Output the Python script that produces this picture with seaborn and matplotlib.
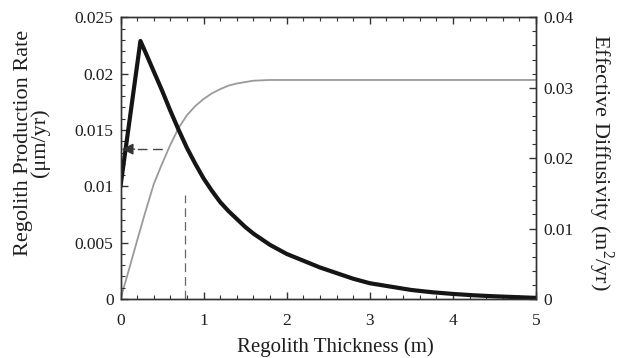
import matplotlib
matplotlib.use("Agg")
import matplotlib.pyplot as plt
from matplotlib.ticker import MultipleLocator, FixedLocator
import pandas as pd
import seaborn as sns

# Regolith production rate (left axis) versus soil thickness
production_h = [0.0, 0.24, 0.3, 0.4, 0.5, 0.6, 0.7, 0.8, 0.9, 1.0, 1.1, 1.2, 1.3, 1.4,
                1.5, 1.6, 1.7, 1.8, 1.9, 2.0, 2.2, 2.4, 2.6, 2.8, 3.0, 3.25, 3.5,
                3.75, 4.0, 4.25, 4.5, 4.75, 5.0]
production_rate = [0.0100, 0.0229, 0.0219, 0.0202, 0.0185, 0.0167, 0.0150, 0.0134,
                   0.0120, 0.0107, 0.0096, 0.0086, 0.0078, 0.0071, 0.0064, 0.0058,
                   0.0053, 0.0048, 0.0044, 0.0040, 0.0034, 0.0028, 0.0023, 0.0018,
                   0.0014, 0.0011, 0.0008, 0.0006, 0.00045, 0.00033, 0.00024,
                   0.00017, 0.0001]

# Effective diffusivity (right axis) versus soil thickness
diffusivity_h = [0.0, 0.1, 0.2, 0.3, 0.4, 0.5, 0.6, 0.7, 0.8, 0.9, 1.0, 1.1, 1.2, 1.3,
                 1.4, 1.5, 1.6, 1.8, 5.0]
diffusivity = [0.0, 0.0041, 0.0083, 0.0124, 0.0163, 0.0192, 0.0219, 0.0243, 0.0261,
               0.0274, 0.0284, 0.0292, 0.0298, 0.0303, 0.0306, 0.0308, 0.0310,
               0.0311, 0.0311]

# Dashed guide lines
guide_rate = 0.0133
guide_rate_span = (0.02, 0.535)
guide_h = 0.78
guide_h_top = 0.0092

x_ticks = [0, 1, 2, 3, 4, 5]
left_ticks = [0, 0.005, 0.01, 0.015, 0.02, 0.025]
left_labels = ["0", "0.005", "0.01", "0.015", "0.02", "0.025"]
right_ticks = [0, 0.01, 0.02, 0.03, 0.04]
right_labels = ["0", "0.01", "0.02", "0.03", "0.04"]

sns.set_theme(style="ticks")
plt.rcParams["font.family"] = ["Liberation Serif", "DejaVu Serif"]
plt.rcParams["mathtext.fontset"] = "custom"
plt.rcParams["mathtext.rm"] = "Liberation Serif"

ink = "#1e1e1e"
fig = plt.figure(figsize=(6.17, 3.58), dpi=100)
ax = fig.add_axes([0.1953, 0.1648, 0.6734, 0.7869])
ax2 = ax.twinx()

prod = pd.DataFrame({"h": production_h, "rate": production_rate})
diff = pd.DataFrame({"h": diffusivity_h, "D": diffusivity})

sns.lineplot(data=diff, x="h", y="D", ax=ax2, color="#9a9a9a", linewidth=1.3)
sns.lineplot(data=prod, x="h", y="rate", ax=ax, color="#151515", linewidth=3.0)
ax.set_zorder(ax2.get_zorder() + 1)
ax.patch.set_visible(False)

# guide lines
ax.plot(guide_rate_span, [guide_rate, guide_rate], color="#444444", lw=1.0,
        dashes=(7, 4))
ax.annotate("", xy=(guide_rate_span[0], guide_rate),
            xytext=(guide_rate_span[0] + 0.15, guide_rate),
            arrowprops=dict(arrowstyle="-|>,head_length=0.55,head_width=0.28",
                            color="#333333", lw=1.0, shrinkA=0, shrinkB=0))
ax.plot([guide_h, guide_h], [0, guide_h_top], color="#666666", lw=0.9,
        dashes=(7, 4))

ax.set_xlim(0, 5)
ax.set_ylim(0, 0.025)
ax2.set_ylim(0, 0.04)

ax.xaxis.set_major_locator(FixedLocator(x_ticks))
ax.set_xticklabels([str(t) for t in x_ticks])
ax.xaxis.set_minor_locator(MultipleLocator(0.2))
ax.yaxis.set_major_locator(FixedLocator(left_ticks))
ax.set_yticklabels(left_labels)
ax.yaxis.set_minor_locator(MultipleLocator(0.001))
ax2.yaxis.set_major_locator(FixedLocator(right_ticks))
ax2.set_yticklabels(right_labels)
ax2.yaxis.set_minor_locator(MultipleLocator(0.002))

for a in (ax, ax2):
    for s in a.spines.values():
        s.set_color("#333333")
        s.set_linewidth(1.0)
ax.tick_params(axis="both", which="both", direction="in", top=True, color="#333333",
               labelsize=12.5, labelcolor=ink)
ax.tick_params(axis="x", which="both", pad=10)
ax.tick_params(axis="y", which="both", pad=5)
ax.tick_params(which="major", length=5, width=1.0)
ax.tick_params(which="minor", length=3, width=0.8)
ax2.tick_params(axis="y", which="both", direction="in", color="#333333",
                labelsize=12.5, labelcolor=ink, pad=5)
ax2.tick_params(which="major", length=5, width=1.0)
ax2.tick_params(which="minor", length=3, width=0.8)

ax.set_xlabel("Regolith Thickness (m)", fontsize=15, color=ink)
ax.xaxis.label.set_va("center")
ax.xaxis.set_label_coords(0.516, -0.170)

ax.set_ylabel("Regolith Production Rate\n(\u03bcm/yr)", fontsize=16, color=ink,
              linespacing=0.85)
ax.yaxis.label.set_va("center")
ax.yaxis.set_label_coords(-0.213, 0.554)

ax2.set_ylabel("Effective Diffusivity (m$^2$/yr)", fontsize=16, color=ink,
               rotation=270)
ax2.yaxis.label.set_va("center")
ax2.yaxis.set_label_coords(1.1565, 0.486)

fig.savefig("out.png", dpi=100)
